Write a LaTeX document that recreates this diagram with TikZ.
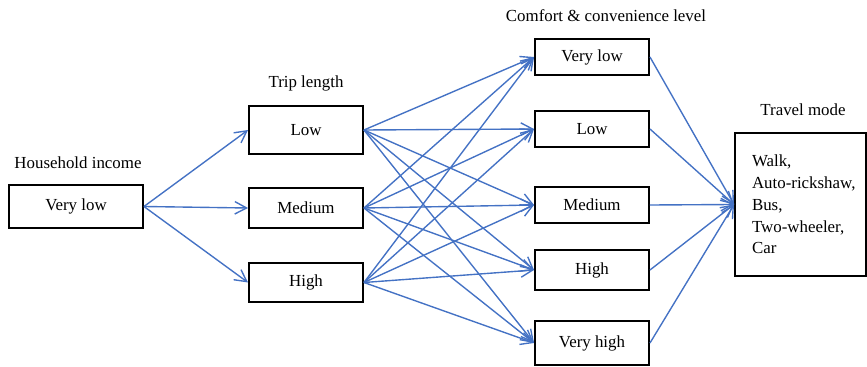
\documentclass[tikz,border=0pt]{standalone}
\usepackage{fontspec}
\setmainfont{Liberation Serif}
\usetikzlibrary{arrows.meta}

\definecolor{linkblue}{RGB}{68,114,196}
\tikzset{
  levelbox/.style={draw, line width=1.4pt, minimum width=1.14in, minimum height=0.40in, inner sep=0pt, font=\fontsize{12.2}{15.8}\selectfont},
  headtext/.style={font=\fontsize{12.2}{15.8}\selectfont},
  link/.style={linkblue, line width=1pt, -{Straight Barb[length=8.5pt,width=9pt]}}
}

\begin{document}
\begin{tikzpicture}[x=1in,y=1in]
\useasboundingbox (0,0) rectangle (8.67,3.67);
\node[headtext] (inctitle) at (0.7800,2.0400) {Household income};
\node[levelbox, minimum width=1.34in, minimum height=0.43in] (inc) at (0.7600,1.6050) {Very low};
\node[headtext] (triptitle) at (3.0600,2.8400) {Trip length};
\node[levelbox, minimum height=0.48in] (triplow) at (3.0600,2.3700) {Low};
\node[levelbox] (tripmed) at (3.0600,1.5900) {Medium};
\node[levelbox, minimum height=0.39in] (triphigh) at (3.0600,0.8450) {High};
\node[headtext] (comftitle) at (6.0600,3.5100) {Comfort \& convenience level};
\node[levelbox, minimum height=0.36in] (comfvlow) at (5.9200,3.1000) {Very low};
\node[levelbox, minimum height=0.36in] (comflow) at (5.9200,2.3800) {Low};
\node[levelbox, minimum height=0.36in] (comfmed) at (5.9200,1.6200) {Medium};
\node[levelbox] (comfhigh) at (5.9200,0.9700) {High};
\node[levelbox, minimum height=0.44in] (comfvhigh) at (5.9200,0.2400) {Very high};
\node[headtext] (modetitle) at (8.0300,2.5700) {Travel mode};
\node[levelbox, minimum height=1.43in, align=left, inner xsep=0.105in, text width=1.10in,
  execute at begin node={\leftskip=0.065in\exhyphenpenalty=10000\hyphenpenalty=10000}] (mode) at (8.0050,1.6250) {Walk,\\Auto-rickshaw,\\Bus,\\Two-wheeler,\\Car};
\draw[link] (inc.east) -- (triplow.west);
\draw[link] (inc.east) -- (tripmed.west);
\draw[link] (inc.east) -- (triphigh.west);
\draw[link] (triplow.east) -- (comfvlow.west);
\draw[link] (triplow.east) -- (comflow.west);
\draw[link] (triplow.east) -- (comfmed.west);
\draw[link] (triplow.east) -- (comfhigh.west);
\draw[link] (triplow.east) -- (comfvhigh.west);
\draw[link] (tripmed.east) -- (comfvlow.west);
\draw[link] (tripmed.east) -- (comflow.west);
\draw[link] (tripmed.east) -- (comfmed.west);
\draw[link] (tripmed.east) -- (comfhigh.west);
\draw[link] (tripmed.east) -- (comfvhigh.west);
\draw[link] (triphigh.east) -- (comfvlow.west);
\draw[link] (triphigh.east) -- (comflow.west);
\draw[link] (triphigh.east) -- (comfmed.west);
\draw[link] (triphigh.east) -- (comfhigh.west);
\draw[link] (triphigh.east) -- (comfvhigh.west);
\draw[link] (comfvlow.east) -- (mode.west);
\draw[link] (comflow.east) -- (mode.west);
\draw[link] (comfmed.east) -- (mode.west);
\draw[link] (comfhigh.east) -- (mode.west);
\draw[link] (comfvhigh.east) -- (mode.west);
\end{tikzpicture}
\end{document}
